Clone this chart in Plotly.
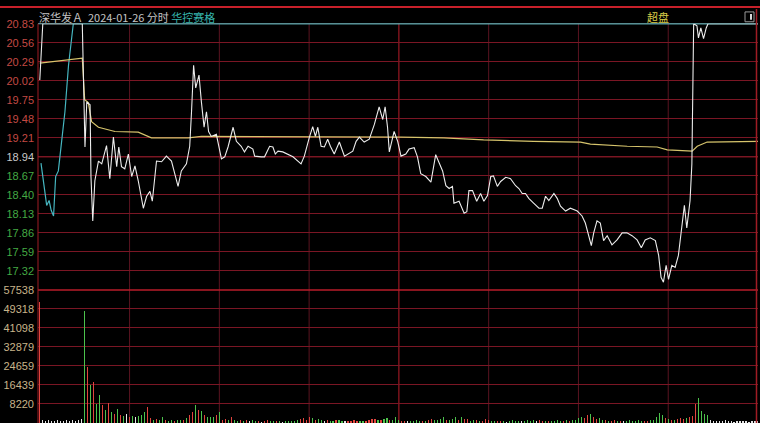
import plotly.graph_objects as go

# ---------------- data ----------------
PREV_CLOSE = 18.94
PRICE_TICKS = [20.83, 20.56, 20.29, 20.02, 19.75, 19.48, 19.21, 18.94,
               18.67, 18.40, 18.13, 17.86, 17.59, 17.32]
PRICE_RANGE = [17.05, 20.83]
VOL_TICKS = [57538, 49318, 41098, 32879, 24659, 16439, 8220]
VOL_MAX = 57538
TIME_GRID = [30, 60, 90, 120, 150, 180, 210]

# price (white) – minute, price
PRICE_T = ([0, 1, 14.2, 15.1, 15.7, 16.8, 17.1, 17.7, 18.4, 19.6, 20.7]
           + [22.3, 23.4, 24.6, 25.7, 26.4, 27.3, 28.4, 29.6, 30.7, 31.8, 32.9, 34.6,
              35.7, 36.8, 37.6, 39, 40.7, 42.3, 44, 46.2, 47.3, 49]
           + [50.1, 50.7, 51.4, 52.1, 53.2, 54, 54.9, 55.7, 56.4, 57.3, 59, 60.7, 61.8,
              62.9, 64.6, 65.7, 67.3, 68.4, 69.6, 71.2, 71.8, 74, 75.1, 76.8, 77.9, 78.7,
              79.6, 81.2, 82.9, 84.6, 87.3, 88.4]
           + [90.1, 91.2, 92.1, 92.9, 94, 95.1, 96.2, 97.1, 98.4, 100.1, 101.8, 102.9,
              104.6, 105.7, 106.8, 108.4, 110.1, 111.8, 113.4, 114.6, 115.4, 116.2, 116.8,
              118.4, 119.6]
           + [120.7, 122.3, 123.4, 125.1, 126.2, 127.3, 129, 130.7, 132.3, 133.4, 134.6,
              135.7, 136.8, 137.9, 138.4, 140.1, 140.7, 141.8, 142.7, 143.4, 144.6, 146,
              147.3, 148.4, 149.6]
           + [150.7, 151.6, 152.9, 154, 155.7, 157.3, 159, 160.1, 161.2, 162.3, 163.4,
              165.1, 166.8, 167.9, 169, 170.1, 171.8, 172.9, 174, 175.7, 177.3, 179.6]
           + [181.2, 182.3, 183.4, 184.3, 185.1, 186.2, 187.3, 188.4, 189.6, 191.2, 192.9,
              194.6, 196.2, 197.9, 199.6, 201, 202.3, 204, 205.7]
           + [206.8, 207.6, 208.4, 209.3, 210.1, 211.2, 212.3, 213.4, 214.6, 215.4, 216.2,
              217.3, 217.9, 218.5, 219.6, 220.1, 220.9, 221.8, 222.7, 223.3, 240])
PRICE = ([20.03, 20.83, 20.83, 19.08, 19.72, 19.68, 18.66, 18.03, 18.6, 18.88, 18.84]
         + [19.1, 18.63, 19.22, 18.8, 19.08, 18.8, 18.77, 18.98, 18.66, 18.81, 18.6, 18.21,
            18.38, 18.45, 18.31, 18.88, 18.87, 18.95, 18.88, 18.52, 18.74, 18.84]
         + [19.09, 19.58, 20.24, 19.92, 20.1, 19.72, 19.36, 19.58, 19.3, 19.23, 19.26, 18.91,
            18.94, 19.08, 19.36, 19.16, 19.09, 19.01, 19.09, 19.05, 18.95, 18.94, 18.94,
            19.09, 19.08, 18.98, 19.02, 19.01, 18.98, 18.94, 18.84, 18.95]
         + [19.22, 19.37, 19.23, 19.36, 19.09, 19.08, 19.19, 19.09, 18.98, 19.15, 18.95,
            18.98, 19.02, 19.16, 19.22, 19.15, 19.19, 19.4, 19.65, 19.47, 19.65, 19.36,
            19.01, 19.3, 19.16]
         + [18.95, 18.98, 19.05, 19.07, 18.94, 18.7, 18.66, 18.58, 18.97, 18.87, 18.74,
            18.53, 18.49, 18.52, 18.28, 18.31, 18.24, 18.14, 18.16, 18.46, 18.46, 18.31,
            18.42, 18.31, 18.39]
         + [18.66, 18.67, 18.52, 18.59, 18.65, 18.63, 18.53, 18.49, 18.42, 18.42, 18.35,
            18.28, 18.21, 18.21, 18.38, 18.32, 18.42, 18.35, 18.24, 18.17, 18.21, 18.17]
         + [18.1, 18.0, 17.82, 17.68, 17.86, 18.03, 18.0, 17.75, 17.82, 17.69, 17.76,
            17.86, 17.86, 17.82, 17.76, 17.65, 17.76, 17.79, 17.75]
         + [17.54, 17.23, 17.16, 17.4, 17.2, 17.4, 17.37, 17.54, 17.96, 18.25, 17.93,
            18.32, 18.84, 20.83, 20.8, 20.63, 20.77, 20.62, 20.77, 20.83, 20.83])

# average price (yellow)
AVG_T = [0, 14.2, 15, 16.2, 17.3, 19.6, 25.1, 32.9, 37.3, 49.6, 54, 64, 87.3, 120.7,
         135, 148.3, 165, 180.7, 184, 196.3, 206.3, 209.7, 218, 219.7, 223, 231.7, 240]
AVG = [20.27, 20.34, 19.75, 19.71, 19.44, 19.36, 19.30, 19.29, 19.21, 19.21, 19.23,
       19.23, 19.22, 19.22, 19.21, 19.18, 19.16, 19.15, 19.12, 19.09, 19.08, 19.04,
       19.02, 19.09, 19.15, 19.16, 19.16]

# comparison stock 华控赛格 (cyan)
CMP_T = [0.4, 1.2, 2.3, 3.1, 3.8, 4.6, 5.3, 6.2, 7.3, 8.4, 9.6, 10.7, 11.2, 240]
CMP = [18.85, 18.6, 18.25, 18.32, 18.18, 18.1, 18.66, 18.74, 19.12, 19.58, 20.24,
       20.66, 20.83, 20.83]

# volume per minute (0..240)
VOL = ([52400]
       + [1200, 1000, 1100, 900, 1000, 1100, 900, 1000, 1200, 1000, 1100, 900, 1300, 1800]
       + [48400, 24000, 16600, 17600, 8400, 11900, 7700, 5500, 8800, 4800]
       + [4100, 6200, 3400, 3000, 3800, 2700, 3000, 2700, 3000, 3400]
       + [4800, 7000, 2200, 1500, 1600, 1200, 2500, 1200, 1000, 1400]
       + [900, 1300, 1100, 1500, 2000, 3400, 4800, 7700, 5500, 5000]
       + [3400, 2500, 2500, 2500, 3400, 4800, 1500, 1800, 1200, 2800]
       + [1500, 1000, 1300, 800, 1100, 900, 1200, 700, 800, 600]
       + [900, 1400, 800, 1000, 700, 900, 600, 800, 700, 900]
       + [1000, 1200, 1800, 2000, 1500, 2700, 2200, 1300, 1600, 1100]
       + [800, 1200, 900, 1000, 1400, 1100, 800, 700, 900, 1000]
       + [1300, 900, 800, 700, 1000, 1200, 1600, 1900, 1500, 1300]
       + [1700, 2200, 1400, 1200, 2700, 1500, 900, 800, 1000, 700]
       + [900, 1200, 1000, 800, 900, 1400, 1800, 1100, 1300, 1600]
       + [2500, 1200, 1500, 1800, 2800, 1300, 2400, 1800, 1600, 900]
       + [1100, 1300, 800, 1000, 1700, 1300, 900, 1000, 800, 700]
       + [900, 600, 800, 1100, 900, 700, 800, 1000, 1100, 900]
       + [1200, 800, 1300, 1000, 700, 900, 800, 1000, 1200, 900]
       + [800, 1100, 900, 1300, 1500, 2000, 2600, 2200, 3400, 4100]
       + [2500, 1800, 2200, 1400, 1200, 1000, 900, 1100, 800, 1000]
       + [700, 900, 1100, 800, 1000, 1200, 900, 1000, 800, 1200]
       + [1500, 2600, 4400, 3400, 2200, 1800, 1500, 1300, 1600, 2000]
       + [1700, 2200, 2400, 3000, 8400, 11000, 5000, 4100, 3400]
       + [1300, 1000, 800, 900, 700, 1100, 800, 900, 600, 800, 700, 900, 800, 600, 700,
          800, 900])
VOL_DIR = ("r" + "w" * 14
           + "grgrggrgrg" + "rgrgwrgwgg" + "grrgrggrgg" + "rggrgrrgrg" + "rgggrgrrgr"
           + "ggrgrwggrw" + "rrggrgwggg" + "ggrrrrgrgg" + "wrggrggwrr" + "rrggrrrrgr"
           + "ggrgggrrwg" + "gggrgrrggg" + "grgggrgrrg" + "grgrrrggrr" + "gwggggwggg"
           + "gwrrgrgggg" + "rgrggggrrg" + "rrggrgrrgr" + "wggggggrrg" + "ggggrgrgrr"
           + "rgrrrgggg" + "w" * 17)
assert len(VOL) == 241 and len(VOL_DIR) == 241
assert len(PRICE_T) == len(PRICE) and len(AVG_T) == len(AVG) and len(CMP_T) == len(CMP)

# ---------------- style ----------------
W, H = 760, 423
X0, X1 = 38, 758
Y_TOP, Y_SEP = 18, 288
BAR_COL = {"r": "#e2443e", "g": "#4cc24c", "w": "#e4e4e4"}
GRID = "#7a1624"
GRID_HI = "#b81c2a"


def px(x):
    return x / W


def py(y):
    return 1 - y / H


def price_label(v):
    if v > PREV_CLOSE + 1e-9:
        c = "#c44a44"
    elif v < PREV_CLOSE - 1e-9:
        c = "#44aa44"
    else:
        c = "#c8c8c8"
    return f"<span style='color:{c}'>{v:.2f}</span>"


fig = go.Figure()
minutes = list(range(len(VOL)))
fig.add_trace(go.Bar(x=minutes, y=VOL, xaxis="x", yaxis="y2", width=0.38,
                     marker=dict(color=[BAR_COL[d] for d in VOL_DIR], line_width=0)))
fig.add_trace(go.Scatter(x=CMP_T, y=CMP, mode="lines", xaxis="x", yaxis="y",
                         line=dict(color="#46b6c0", width=1.2)))
fig.add_trace(go.Scatter(x=AVG_T, y=AVG, mode="lines", xaxis="x", yaxis="y",
                         line=dict(color="#d6c46c", width=1.2)))
fig.add_trace(go.Scatter(x=PRICE_T, y=PRICE, mode="lines", xaxis="x", yaxis="y",
                         line=dict(color="#ececec", width=1.1)))

shapes = []
# vertical time grid
for t in TIME_GRID:
    shapes.append(dict(type="line", xref="x", yref="paper", x0=t, x1=t,
                       y0=0, y1=py(Y_TOP), layer="between",
                       line=dict(color=GRID_HI if t == 120 else "#5a1420", width=1)))
# previous close line
shapes.append(dict(type="line", xref="paper", yref="y", x0=px(X0), x1=px(X1),
                   y0=PREV_CLOSE, y1=PREV_CLOSE, layer="between",
                   line=dict(color=GRID_HI, width=1)))
# panel separator
shapes.append(dict(type="line", xref="paper", yref="paper", x0=px(X0), x1=px(X1),
                   y0=py(Y_SEP), y1=py(Y_SEP), layer="between",
                   line=dict(color=GRID_HI, width=1.5)))
# left / right borders
shapes.append(dict(type="line", xref="paper", yref="paper", x0=px(X0), x1=px(X0),
                   y0=0, y1=py(Y_TOP), line=dict(color="#a01c24", width=1)))
shapes.append(dict(type="line", xref="paper", yref="paper", x0=px(756.5), x1=px(756.5),
                   y0=0, y1=py(3), line=dict(color="#a01c24", width=1.5)))
# top border (limit-up level)
shapes.append(dict(type="line", xref="paper", yref="paper", x0=px(X0), x1=px(X1),
                   y0=py(Y_TOP), y1=py(Y_TOP), layer="between",
                   line=dict(color="#7fb4b8", width=1.2)))
# top red strip
shapes.append(dict(type="rect", xref="paper", yref="paper", x0=0, x1=1,
                   y0=py(2), y1=1, fillcolor="#c8202a", line_width=0))
# small icon box
shapes.append(dict(type="rect", xref="paper", yref="paper", x0=px(745), x1=px(754),
                   y0=py(16), y1=py(6), line=dict(color="#9a9a9a", width=1)))
shapes.append(dict(type="rect", xref="paper", yref="paper", x0=px(750), x1=px(752),
                   y0=py(14), y1=py(8), fillcolor="#d8d8d8", line_width=0))

annotations = [
    dict(xref="paper", yref="paper", x=px(37), y=py(11), xanchor="left", yanchor="middle",
         showarrow=False,
         text="深华发Ａ  2024-01-26 分时 <span style='color:#36b4ac'>华控赛格</span>",
         font=dict(family="Noto Sans CJK SC, Liberation Sans", size=11, color="#c4c4c4")),
    dict(xref="paper", yref="paper", x=px(645), y=py(11), xanchor="left", yanchor="middle",
         showarrow=False, text="超盘",
         font=dict(family="Noto Sans CJK SC", size=11, color="#d8cc48")),
]

axis_font = dict(family="Liberation Sans, Arial", size=11)
fig.update_layout(
    width=W, height=H, margin=dict(l=0, r=0, t=0, b=0, pad=0),
    paper_bgcolor="#000000", plot_bgcolor="#000000",
    showlegend=False, bargap=0,
    xaxis=dict(domain=[px(X0), px(X1)], range=[-0.6, 240], anchor="y2",
               showticklabels=False, showgrid=False, zeroline=False, showline=False,
               ticks=""),
    yaxis=dict(domain=[py(Y_SEP), py(Y_TOP)], range=PRICE_RANGE, anchor="x",
               tickvals=PRICE_TICKS, ticktext=[price_label(v) for v in PRICE_TICKS],
               showgrid=True, gridcolor=GRID, gridwidth=1, zeroline=False,
               showline=False, ticks="", tickfont=axis_font, ticklabelstandoff=3),
    yaxis2=dict(domain=[0, py(Y_SEP)], range=[0, VOL_MAX], anchor="x",
                tickvals=VOL_TICKS, ticktext=[str(v) for v in VOL_TICKS],
                showgrid=True, gridcolor=GRID, gridwidth=1, zeroline=False,
                showline=False, ticks="", tickfont=dict(axis_font, color="#c8b48a"),
                ticklabelstandoff=3),
    shapes=shapes, annotations=annotations,
)

fig.write_html(
    "out.html",
    config={"displayModeBar": False, "staticPlot": True},
    post_script="document.body.style.margin='0';document.body.style.padding='0';"
                "document.body.style.overflow='hidden';"
                "document.body.style.background='#000';",
)
